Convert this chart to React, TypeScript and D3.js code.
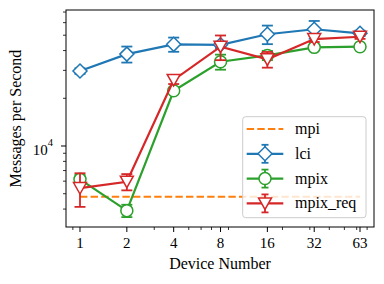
import React from "react";
import * as d3 from "d3";

// x: number of devices, y: messages per second (log-log)
const devices = [1, 2, 4, 8, 16, 32, 63];

const mpiRate = 4790;

const lciRate = [29700, 38000, 43800, 43500, 50700, 54500, 51400];
const lciErr = [1200, 4400, 4500, 2000, 6800, 7000, 2000];

const mpixRate = [6160, 3910, 22300, 34000, 37300, 41900, 42300];
const mpixErr = [400, 350, 800, 3700, 2500, 1000, 1000];

const mpixReqRate = [5430, 5950, 26100, 42300, 35200, 47300, 48900];
const mpixReqErr = [1300, 700, 1500, 7500, 4000, 2000, 1500];

const xTicks = [1, 2, 4, 8, 16, 32, 63];
const xMinorTicks = [0.9, 3, 5, 6, 7, 9, 20, 30, 40, 50, 60, 70];
const yMinorTicks = [4000, 5000, 6000, 7000, 8000, 9000, 20000, 30000, 40000, 50000, 60000, 70000];

const W = 384;
const H = 284;
const margin = { top: 10, right: 10, bottom: 57, left: 66 };
const FONT = "Liberation Serif";

const C = {
  mpi: "#ff7f0e",
  lci: "#1f77b4",
  mpix: "#2ca02c",
  req: "#d62728",
};

type Shape = "diamond" | "circle" | "tri";

const Marker: React.FC<{ x: number; y: number; shape: Shape; color: string }> = ({ x, y, shape, color }) => {
  const common = { fill: "white", stroke: color, strokeWidth: 1.5 };
  if (shape === "circle") return <circle cx={x} cy={y} r={6} {...common} />;
  if (shape === "diamond")
    return <path d={`M${x},${y - 7}L${x + 7},${y}L${x},${y + 7}L${x - 7},${y}Z`} {...common} />;
  return <path d={`M${x - 6.5},${y - 5.5}L${x + 6.5},${y - 5.5}L${x},${y + 6}Z`} {...common} />;
};

const App: React.FC = () => {
  const x = d3
    .scaleLog()
    .base(2)
    .domain([0.813, 77.5])
    .range([margin.left, W - margin.right]);
  const y = d3
    .scaleLog()
    .domain([3083, 72110])
    .range([H - margin.bottom, margin.top]);

  const line = d3
    .line<number>()
    .x((_, i) => x(devices[i]))
    .y((d) => y(d));

  const series = [
    { name: "lci", vals: lciRate, err: lciErr, color: C.lci, shape: "diamond" as Shape },
    { name: "mpix", vals: mpixRate, err: mpixErr, color: C.mpix, shape: "circle" as Shape },
    { name: "mpix_req", vals: mpixReqRate, err: mpixReqErr, color: C.req, shape: "tri" as Shape },
  ];

  const bottom = H - margin.bottom;
  const left = margin.left;
  const cap = 5.5;

  const legendX = 242.7;
  const legendY = 116.7;
  const legendRows = ["mpi", "lci", "mpix", "mpix_req"];

  return (
    <svg
      width={W}
      height={H}
      style={{ position: "absolute", left: 0, top: 0, background: "white", fontFamily: FONT }}
    >
      <rect width={W} height={H} fill="white" />

      {/* mpi baseline */}
      <line
        x1={x(devices[0])}
        x2={x(devices[devices.length - 1])}
        y1={y(mpiRate)}
        y2={y(mpiRate)}
        stroke={C.mpi}
        strokeWidth={2}
        strokeDasharray="7.4 3.2"
      />

      {series.map((s) => (
        <g key={s.name}>
          <path d={line(s.vals) || ""} fill="none" stroke={s.color} strokeWidth={2.2} />
          {s.vals.map((v, i) => {
            const cx = x(devices[i]);
            const y0 = y(v - s.err[i]);
            const y1 = y(v + s.err[i]);
            return (
              <g key={i} stroke={s.color} strokeWidth={1.8}>
                <line x1={cx} x2={cx} y1={y0} y2={y1} />
                <line x1={cx - cap} x2={cx + cap} y1={y0} y2={y0} />
                <line x1={cx - cap} x2={cx + cap} y1={y1} y2={y1} />
              </g>
            );
          })}
          {s.vals.map((v, i) => (
            <Marker key={i} x={x(devices[i])} y={y(v)} shape={s.shape} color={s.color} />
          ))}
        </g>
      ))}

      {/* frame */}
      <rect
        x={left}
        y={margin.top}
        width={W - margin.right - left}
        height={bottom - margin.top}
        fill="none"
        stroke="black"
        strokeWidth={1}
      />

      {/* x ticks */}
      {xTicks.map((t) => (
        <g key={t}>
          <line x1={x(t)} x2={x(t)} y1={bottom} y2={bottom + 5} stroke="black" />
          <text x={x(t)} y={248} textAnchor="middle" fontSize={15} fontFamily={FONT}>
            {t}
          </text>
        </g>
      ))}
      {xMinorTicks.map((t) => (
        <line key={t} x1={x(t)} x2={x(t)} y1={bottom} y2={bottom + 3} stroke="black" strokeWidth={0.8} />
      ))}

      {/* y ticks */}
      <line x1={left - 5} x2={left} y1={y(10000)} y2={y(10000)} stroke="black" />
      <text x={53} y={y(10000) + 9} textAnchor="end" fontSize={15} fontFamily={FONT}>
        10
        <tspan fontSize={10.5} dy={-9}>
          4
        </tspan>
      </text>
      {yMinorTicks.map((t) => (
        <line key={t} x1={left - 3} x2={left} y1={y(t)} y2={y(t)} stroke="black" strokeWidth={0.8} />
      ))}

      {/* axis labels */}
      <text
        x={(left + W - margin.right) / 2}
        y={269}
        textAnchor="middle"
        fontSize={16}
        fontFamily={FONT}
      >
        Device Number
      </text>
      <text
        transform={`translate(21,${(margin.top + bottom) / 2}) rotate(-90)`}
        textAnchor="middle"
        fontSize={16}
        fontFamily={FONT}
      >
        Messages per Second
      </text>

      {/* legend */}
      <rect
        x={legendX}
        y={legendY}
        width={123.3}
        height={101}
        rx={3}
        fill="white"
        fillOpacity={0.8}
        stroke="#cccccc"
        strokeWidth={1}
      />
      {legendRows.map((name, i) => {
        const ly = 129 + i * 24.8;
        const hx0 = 246.7;
        const hx1 = 283.3;
        const hc = (hx0 + hx1) / 2;
        const s = series.find((d) => d.name === name);
        return (
          <g key={name}>
            {s ? (
              <g>
                <line x1={hx0} x2={hx1} y1={ly} y2={ly} stroke={s.color} strokeWidth={2.2} />
                <g stroke={s.color} strokeWidth={1.8}>
                  <line x1={hc} x2={hc} y1={ly - 9} y2={ly + 9} />
                  <line x1={hc - 3.5} x2={hc + 3.5} y1={ly - 9} y2={ly - 9} />
                  <line x1={hc - 3.5} x2={hc + 3.5} y1={ly + 9} y2={ly + 9} />
                </g>
                <Marker x={hc} y={ly} shape={s.shape} color={s.color} />
              </g>
            ) : (
              <line
                x1={hx0}
                x2={hx1}
                y1={ly}
                y2={ly}
                stroke={C.mpi}
                strokeWidth={2}
                strokeDasharray="7.4 3.2"
              />
            )}
            <text x={295} y={ly + 5} fontSize={16} fontFamily={FONT}>
              {name}
            </text>
          </g>
        );
      })}
    </svg>
  );
};

export default App;
